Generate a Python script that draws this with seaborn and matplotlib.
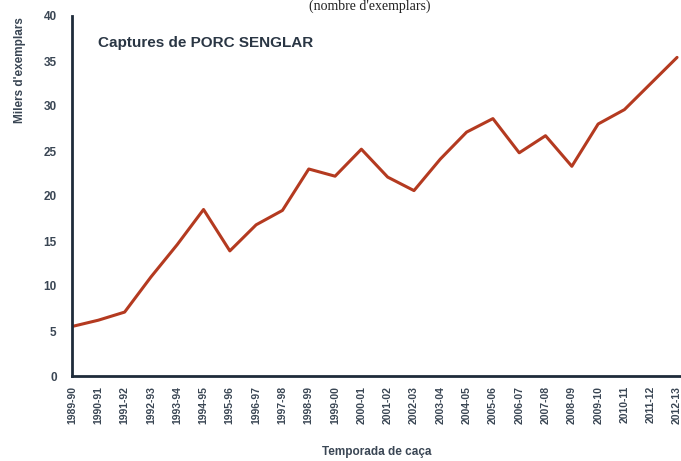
import matplotlib
matplotlib.use("Agg")
import matplotlib.pyplot as plt
import seaborn as sns
import pandas as pd

# seasons (temporades de caça) and captures in thousands
seasons = ["1989-90", "1990-91", "1991-92", "1992-93", "1993-94", "1994-95",
           "1995-96", "1996-97", "1997-98", "1998-99", "1999-00", "2000-01",
           "2001-02", "2002-03", "2003-04", "2004-05", "2005-06", "2006-07",
           "2007-08", "2008-09", "2009-10", "2010-11", "2011-12", "2012-13"]
captures = [5.5, 6.2, 7.1, 11.0, 14.6, 18.5, 13.9, 16.8, 18.4, 23.0, 22.2, 25.2,
            22.1, 20.6, 24.1, 27.1, 28.6, 24.8, 26.7, 23.3, 28.0, 29.6, 32.5, 35.4]

df = pd.DataFrame({"pos": range(len(seasons)), "captures": captures})

sns.set_style("white")
plt.rcParams["font.family"] = ["Liberation Sans", "DejaVu Sans"]

axis_col = "#1e2b3a"
text_col = "#3a4654"
line_col = "#b43a20"

fig = plt.figure(figsize=(6.81, 4.61), dpi=100)
ax = fig.add_axes([72 / 681, 85 / 461, 609 / 681, 360 / 461])

sns.lineplot(data=df, x="pos", y="captures", ax=ax, color=line_col, linewidth=2.2)

ax.set_xlim(0, 23.15)
ax.set_ylim(0, 40)
ax.set_yticks(range(0, 41, 5))
ax.set_xticks(range(len(seasons)))
ax.set_xticklabels(seasons, rotation=90, fontsize=7.5, fontweight="bold", color=text_col)
ax.tick_params(axis="y", labelsize=8.5, labelcolor=text_col, length=3, width=1.2,
               color=axis_col, direction="out", pad=8)
ax.tick_params(axis="x", length=3, width=1.2, color=axis_col, direction="out", pad=4)
for lab in ax.get_yticklabels():
    lab.set_fontweight("bold")

for side in ["top", "right"]:
    ax.spines[side].set_visible(False)
for side in ["left", "bottom"]:
    ax.spines[side].set_color(axis_col)
    ax.spines[side].set_linewidth(2)

ax.set_xlabel("Temporada de caça", fontsize=8.5, fontweight="bold", color=text_col, labelpad=16)
ax.set_ylabel("")

ax.text(0.043, 0.915, "Captures de PORC SENGLAR", transform=ax.transAxes,
        fontsize=11, fontweight="bold", color="#2a3644")

fig.text(20 / 681, 1 - 70 / 461, "Milers d'exemplars", rotation=90, fontsize=8.5,
         fontweight="bold", color=text_col, ha="center", va="center")
fig.text(370 / 681, 1.0, "(nombre d'exemplars)", fontsize=10,
         family=["Liberation Serif", "DejaVu Serif"], color="#222222",
         ha="center", va="top")

fig.savefig("out.png", dpi=100)
